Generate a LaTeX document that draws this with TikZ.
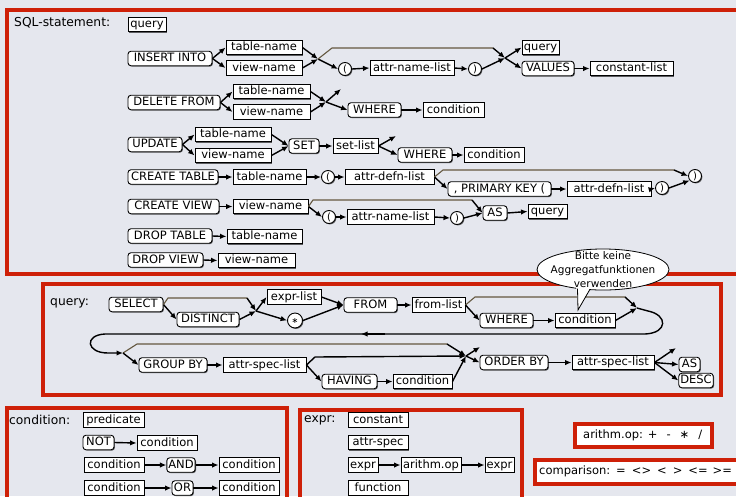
\documentclass[tikz,border=0pt]{standalone}
\usepackage{fontspec}
\setmainfont{DejaVu Sans}
\usetikzlibrary{arrows.meta,shadows,shapes.geometric}
\definecolor{bgc}{RGB}{229,231,238}
\definecolor{framec}{RGB}{206,32,8}
\definecolor{brn}{RGB}{100,88,64}
\begin{document}
\begin{tikzpicture}[x=1pt,y=-1pt,
 boxbase/.style={draw,line width=0.9pt,fill=white,inner sep=0pt,inner xsep=1.5pt,minimum height=14.5pt,text height=8.4pt,text depth=2.4pt,font=\fontsize{11.5}{14}\selectfont,drop shadow={shadow xshift=0.9pt,shadow yshift=-0.9pt,opacity=0.6,fill=black}},
 nt/.style={boxbase},
 kw/.style={boxbase,rounded corners=3pt},
 circ/.style={draw,line width=0.9pt,fill=white,circle,inner sep=0pt,minimum size=13pt,font=\fontsize{10}{12}\selectfont,drop shadow={shadow xshift=0.9pt,shadow yshift=-0.9pt,opacity=0.6,fill=black}},
 ar/.style={line width=1.4pt,-{Latex[length=6.5pt,width=5.5pt]}},
 br/.style={line width=1.1pt,brn},
 fr/.style={draw=framec,line width=4pt},
 lbl/.style={anchor=west,inner sep=0pt,font=\fontsize{12.3}{14}\selectfont},
 slbl/.style={anchor=west,inner sep=0pt,font=\fontsize{11.5}{14}\selectfont}
]
\clip (0,0) rectangle (736,496);
\fill[bgc] (0,0) rectangle (736,496);
% frames
\draw[fr] (7,10) rectangle (760,273.5);
\draw[fr] (43,284) rectangle (721,395);
\draw[fr] (6.5,407.5) rectangle (286.5,520);
\draw[fr] (300,409.5) rectangle (522,520);
\draw[fr,fill=white] (575,424) rectangle (711.5,446.5);
\draw[fr,fill=white] (535,459.5) rectangle (760,484);

% ---------------- SQL-statement
\node[lbl] (lsql) at (14,23) {SQL-statement:};
\node[nt,minimum width=38pt] (q1) at (147,24.5) {query};

% INSERT
\node[kw,minimum width=84pt] (ins) at (170,58.5) {INSERT INTO};
\node[nt,minimum width=76pt] (inst) at (264,47.5) {table-name};
\node[nt,minimum width=76pt] (insv) at (264,68) {view-name};
\node[circ] (inso) at (345,69) {(};
\node[nt,minimum width=84pt] (insa) at (412,68) {attr-name-list};
\node[circ] (insc) at (475,69) {)};
\node[nt,minimum width=37pt] (insq) at (540.5,47.5) {query};
\node[kw,minimum width=52pt] (insval) at (548,68.5) {VALUES};
\node[nt,minimum width=83pt] (inscl) at (631.5,68.5) {constant-list};
\coordinate (j1) at (318,59);
\coordinate (j2) at (505,58);
\coordinate (b1a) at (332,48);
\coordinate (b1b) at (493,48);
\draw[ar] (ins.east) -- (inst.west);
\draw[ar] (ins.east) -- (insv.west);
\draw[ar] (inst.east) -- (j1);
\draw[ar] (insv.east) -- (j1);
\draw[ar] (j1) -- (inso.west);
\draw[ar] (inso.east) -- (insa.west);
\draw[ar] (insa.east) -- (insc.west);
\draw[br] (j1) -- (b1a) -- (b1b);
\draw[ar] (b1b) -- (j2);
\draw[ar] (insc.east) -- (j2);
\draw[ar] (j2) -- (insq.west);
\draw[ar] (j2) -- (insval.west);
\draw[ar] (insval.east) -- (inscl.west);

% DELETE
\node[kw,minimum width=92pt] (del) at (174,102.5) {DELETE FROM};
\node[nt,minimum width=77pt] (delt) at (271.5,91.5) {table-name};
\node[nt,minimum width=77pt] (delv) at (271.5,112) {view-name};
\node[kw,minimum width=53pt] (delw) at (374.5,110) {WHERE};
\node[nt,minimum width=61pt] (delc) at (453.5,110) {condition};
\coordinate (j3) at (326,102);
\coordinate (e3) at (341,89);
\draw[ar] (del.east) -- (delt.west);
\draw[ar] (del.east) -- (delv.west);
\draw[ar] (delt.east) -- (j3);
\draw[ar] (delv.east) -- (j3);
\draw[ar] (j3) -- (e3);
\draw[ar] (j3) -- (delw.west);
\draw[ar] (delw.east) -- (delc.west);

% UPDATE
\node[kw,minimum width=54pt] (upd) at (155,144.5) {UPDATE};
\node[nt,minimum width=76pt] (updt) at (233,134.5) {table-name};
\node[nt,minimum width=76pt] (updv) at (233,155.5) {view-name};
\node[kw,minimum width=30pt] (set) at (304,146) {SET};
\node[nt,minimum width=45pt] (setl) at (355.5,146) {set-list};
\node[kw,minimum width=54pt] (updw) at (425,155) {WHERE};
\node[nt,minimum width=60pt] (updc) at (494,155) {condition};
\coordinate (e4) at (396,136);
\draw[ar] (upd.east) -- (updt.west);
\draw[ar] (upd.east) -- (updv.west);
\draw[ar] (updt.east) -- (set.west);
\draw[ar] (updv.east) -- (set.west);
\draw[ar] (set.east) -- (setl.west);
\draw[ar] (setl.east) -- (e4);
\draw[ar] (setl.east) -- (updw.west);
\draw[ar] (updw.east) -- (updc.west);

% CREATE TABLE
\node[kw,minimum width=90pt] (ct) at (173,177) {CREATE TABLE};
\node[nt,minimum width=73pt] (ctt) at (269.5,177) {table-name};
\node[circ] (cto) at (328,177) {(};
\node[nt,minimum width=89pt] (cta) at (389.5,177) {attr-defn-list};
\node[kw,minimum width=103pt] (pk) at (499.5,189) {, PRIMARY KEY (};
\node[nt,minimum width=84pt] (cta2) at (609,189) {attr-defn-list};
\node[circ] (ctc) at (662,188) {)};
\node[circ] (cte) at (695,176) {)};
\coordinate (b2a) at (443,170);
\coordinate (b2b) at (674,170);
\draw[ar] (ct.east) -- (ctt.west);
\draw[ar] (ctt.east) -- (cto.west);
\draw[ar] (cto.east) -- (cta.west);
\draw[ar] (cta.east) -- (pk.west);
\draw[ar] (pk.east) -- (cta2.west);
\draw[ar] (cta2.east) -- (ctc.west);
\draw[ar] (ctc.east) -- (cte.220);
\draw[br] (cta.east) -- (b2a) -- (b2b);
\draw[ar] (b2b) -- (cte.west);

% CREATE VIEW
\node[kw,minimum width=91pt] (cv) at (173.5,206.5) {CREATE VIEW};
\node[nt,minimum width=75pt] (cvv) at (270.5,206.5) {view-name};
\node[circ] (cvo) at (329,217) {(};
\node[nt,minimum width=87pt] (cva) at (390.5,217) {attr-name-list};
\node[circ] (cvc) at (457,218) {)};
\node[kw,minimum width=24pt] (as1) at (495,213) {AS};
\node[nt,minimum width=39pt] (cvq) at (547.5,211.5) {query};
\coordinate (b3a) at (313,200);
\coordinate (b3b) at (472,200);
\draw[ar] (cv.east) -- (cvv.west);
\draw[ar] (cvv.east) -- (cvo.west);
\draw[ar] (cvo.east) -- (cva.west);
\draw[ar] (cva.east) -- (cvc.west);
\draw[ar] (cvc.east) -- (as1.west);
\draw[br] (cvv.east) -- (b3a) -- (b3b);
\draw[ar] (b3b) -- (as1.west);
\draw[ar] (as1.east) -- (cvq.west);

% DROP
\node[kw,minimum width=84pt] (dt) at (170,236) {DROP TABLE};
\node[nt,minimum width=75pt] (dtt) at (264.5,236.5) {table-name};
\node[kw,minimum width=75pt] (dv) at (165.5,260) {DROP VIEW};
\node[nt,minimum width=77pt] (dvv) at (256.5,260.5) {view-name};
\draw[ar] (dt.east) -- (dtt.west);
\draw[ar] (dv.east) -- (dvv.west);

% ---------------- query
\node[lbl] (lq) at (50,303) {query:};
\node[kw,minimum width=54pt] (sel) at (136,304.5) {SELECT};
\node[kw,minimum width=62pt] (dis) at (208,319.5) {DISTINCT};
\node[nt,minimum width=54pt] (el) at (294,297) {expr-list};
\node[circ,minimum size=15pt,font=\fontsize{8}{8}\selectfont] (star) at (295,320.5) {∗};
\node[kw,minimum width=53pt] (from) at (370.5,305) {FROM};
\node[nt,minimum width=53pt] (fl) at (438.5,305) {from-list};
\node[kw,minimum width=53pt] (qw) at (506.5,320.5) {WHERE};
\node[nt,minimum width=60pt] (qc) at (585,320.5) {condition};
\coordinate (j5) at (256,311);
\coordinate (j6) at (637,308);
\coordinate (b4a) at (168,298);
\coordinate (b4b) at (247,298);
\coordinate (b5a) at (475,297);
\coordinate (b5b) at (625,297);
\draw[ar] (sel.east) -- (dis.west);
\draw[br] (sel.east) -- (b4a) -- (b4b);
\draw[ar] (b4b) -- (j5);
\draw[ar] (dis.east) -- (j5);
\draw[ar] (j5) -- (el.west);
\draw[ar] (j5) -- (star.west);
\draw[ar] (el.east) -- (from.west);
\draw[ar] (star.east) -- (from.west);
\draw[ar] (from.east) -- (fl.west);
\draw[br] (fl.east) -- (b5a) -- (b5b);
\draw[ar] (b5b) -- (j6);
\draw[ar] (fl.east) -- (qw.west);
\draw[ar] (qw.east) -- (qc.west);
\draw[ar] (qc.east) -- (j6);
% loop
\coordinate (j7) at (123,353);
\draw[ar] (j6) -- (648,311) .. controls (668,315) and (668,333) .. (645,334) -- (105,334) .. controls (84,335) and (86,353) .. (108,353) -- (j7);
\coordinate (m1) at (385,334);
\coordinate (m2) at (361,334);
\draw[ar] (m1) -- (m2);

\node[kw,minimum width=68pt] (gb) at (173,365) {GROUP BY};
\node[nt,minimum width=83pt] (asl1) at (264.5,365) {attr-spec-list};
\node[kw,minimum width=55pt] (hav) at (349.5,381.5) {HAVING};
\node[nt,minimum width=59pt] (qc2) at (422.5,381.5) {condition};
\coordinate (j8) at (466,356);
\coordinate (e8) at (480,347);
\node[kw,minimum width=68pt] (ob) at (514,362.5) {ORDER BY};
\node[nt,minimum width=82pt] (asl2) at (613,362.5) {attr-spec-list};
\node[kw,minimum width=21pt] (as2) at (689.5,364.5) {AS};
\node[kw,minimum width=34pt] (desc) at (696,380.5) {DESC};
\coordinate (e9) at (676,348);
\coordinate (b6a) at (137,344);
\coordinate (b6b) at (447,344);
\coordinate (b7a) at (315,357);
\draw[br] (j7) -- (b6a) -- (b6b);
\draw[ar] (b6b) -- (j8);
\draw[ar] (j7) -- (gb.west);
\draw[ar] (gb.east) -- (asl1.west);
\draw[ar] (asl1.east) -- (b7a) -- (j8);
\draw[ar] (asl1.east) -- (hav.west);
\draw[ar] (hav.east) -- (qc2.west);
\draw[ar] (qc2.east) -- (j8);
\draw[ar] (j8) -- (e8);
\draw[ar] (j8) -- (ob.west);
\draw[ar] (ob.east) -- (asl2.west);
\draw[ar] (asl2.east) -- (e9);
\draw[ar] (asl2.east) -- (as2.west);
\draw[ar] (asl2.east) -- (desc.west);

% callout
\node[ellipse,draw,fill=white,line width=0.8pt,minimum width=132pt,minimum height=41pt,inner sep=0pt] (call) at (603,269.5) {};
\fill[white] (576,285) -- (578,310) -- (592,285) -- cycle;
\coordinate (t1) at (577.5,288.6);
\coordinate (t2) at (578,310);
\coordinate (t3) at (590,289.2);
\draw[line width=0.8pt] (t1) -- (t2) -- (t3);
\node[font=\fontsize{10.5}{14}\selectfont,align=center,inner sep=0pt] (ctext) at (603,269.5) {Bitte keine\\Aggregatfunktionen\\verwenden};

% ---------------- condition
\node[lbl] (lc) at (9,420) {condition:};
\node[nt,minimum width=61pt] (pred) at (113.5,420) {predicate};
\node[kw,minimum width=31pt] (not) at (98.5,442.5) {NOT};
\node[nt,minimum width=60pt] (c1) at (167,443) {condition};
\node[nt,minimum width=60pt] (c2) at (114,465) {condition};
\node[kw,minimum width=28pt] (and) at (181,465) {AND};
\node[nt,minimum width=60pt] (c3) at (249,465) {condition};
\node[nt,minimum width=60pt] (c4) at (114,488) {condition};
\node[kw,minimum width=21pt] (or) at (182.5,488) {OR};
\node[nt,minimum width=60pt] (c5) at (249,488) {condition};
\draw[ar] (not.east) -- (c1.west);
\draw[ar] (c2.east) -- (and.west);
\draw[ar] (and.east) -- (c3.west);
\draw[ar] (c4.east) -- (or.west);
\draw[ar] (or.east) -- (c5.west);

% ---------------- expr
\node[lbl] (le) at (304,420) {expr:};
\node[nt,minimum width=60pt] (const) at (378,420) {constant};
\node[nt,minimum width=60pt] (aspec) at (378,442.5) {attr-spec};
\node[nt,minimum width=30pt] (ex1) at (363,465) {expr};
\node[nt,minimum width=60pt] (aop) at (431,465) {arithm.op};
\node[nt,minimum width=29pt] (ex2) at (499.5,465) {expr};
\node[nt,minimum width=60pt] (func) at (378,488) {function};
\draw[ar] (ex1.east) -- (aop.west);
\draw[ar] (aop.east) -- (ex2.west);

% small frames
\node[slbl] (larith) at (583,435) {arithm.op: +\hspace{9pt}-\hspace{9pt}∗\hspace{9pt}/};
\node[slbl] (lcomp) at (539,471) {comparison:\hspace{6pt}=\hspace{6pt}<>\hspace{6pt}<\hspace{6pt}>\hspace{6pt}<=\hspace{5pt}>=};
\end{tikzpicture}
\end{document}
